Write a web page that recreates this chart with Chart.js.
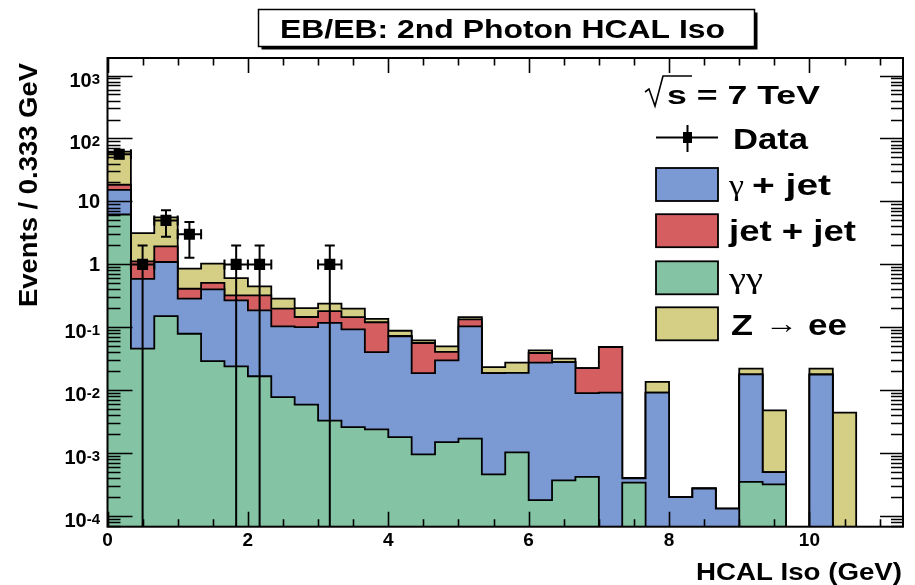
<!DOCTYPE html>
<html><head><meta charset="utf-8">
<script src="https://cdn.jsdelivr.net/npm/chart.js@4.4.1/dist/chart.umd.min.js"></script>
<style>html,body{margin:0;padding:0;background:#fff;overflow:hidden}canvas{display:block}</style>
</head><body>
<canvas id="c" width="915" height="585"></canvas>
<script>
// ---- data ----
const binCenters = [0.167, 0.5, 0.833, 1.167, 1.5, 1.833, 2.167, 2.5, 2.833, 3.167, 3.5, 3.833,
  4.167, 4.5, 4.833, 5.167, 5.5, 5.833, 6.167, 6.5, 6.833, 7.167, 7.5, 7.833,
  8.167, 8.5, 8.833, 9.167, 9.5, 9.833, 10.167, 10.5, 10.833, 11.167];
const binWidth = 1 / 3;
const gammaGamma = [6.2, 0.046, 0.151, 0.079, 0.029, 0.024, 0.0167, 0.0078, 0.0059, 0.0033, 0.0026, 0.0024,
  0.0018, 0.00096, 0.0015, 0.0017, 0.00046, 0.00103, 0.00018, 0.00037, 0.00042, 0, 0.00034, 0,
  0, 0, 0, 0.00035, 0.00032, 0, 0, 0, 0, 0];
const gammaJet = [9.1, 0.544, 0.939, 0.207, 0.371, 0.244, 0.169, 0.096, 0.095, 0.114, 0.090, 0.038,
  0.070, 0.0178, 0.0284, 0.102, 0.0183, 0.0178, 0.0273, 0.0277, 0.0086, 0.0092, 0.00006, 0.0092,
  0.0002, 0.000275, 0.000132, 0.0176, 0.00018, 0, 0.0178, 0, 0, 0];
const jetJet = [3.1, 0.53, 0.84, 0.124, 0.11, 0.054, 0.136, 0.094, 0.045, 0.063, 0.053, 0.080,
  0.0015, 0.0376, 0.0107, 0.030, 0, 0, 0.0116, 0, 0.0135, 0.0395, 0, 0,
  0, 0, 0, 0, 0, 0, 0, 0, 0, 0];
const zee = [43.6, 2.02, 3.67, 0.445, 0.52, 0.285, 0.126, 0.088, 0.056, 0.058, 0.052, 0.016,
  0.015, 0.0058, 0.0093, 0.012, 0.0046, 0.0087, 0.004, 0.0037, 0, 0, 0, 0.0044,
  0, 0, 0, 0.0042, 0.0043, 0, 0.0043, 0.0044, 0, 0];
const dataX = [0.167, 0.5, 0.833, 1.167, 1.833, 2.167, 3.167];
const dataY = [56, 1, 5, 3, 1, 1, 1];
const dataErr = [7.5, 1, 2.24, 1.73, 1, 1, 1];
const seriesNames = ['γ + jet', 'jet + jet', 'γγ', 'Z → ee'];
const seriesColors = ['#7B9AD4', '#D55E60', '#84C3A3', '#D4CF85'];
const yTickValues = [1e3, 1e2, 10, 1, 0.1, 0.01, 0.001, 0.0001];
const yTickBase = ['10', '10', '10', '1', '10', '10', '10', '10'];
const yTickExp = ['3', '2', '', '', '-1', '-2', '-3', '-4'];
const xTickValues = [0, 2, 4, 6, 8, 10];
const titleText = 'EB/EB: 2nd Photon HCAL Iso';
const energyText = 's = 7 TeV';
const xTitle = 'HCAL Iso (GeV)';
const yTitle = 'Events / 0.333 GeV';

// ---- build cumulative stacks (THStack style) ----
const FLOOR = 1e-8;
function cumulative(layers) {
  return binCenters.map((_, k) => layers.reduce((s, arr) => s + arr[k], 0));
}
function stepPoints(cum) {
  const pts = binCenters.map((c, k) => ({x: c - binWidth / 2, y: cum[k] > 0 ? cum[k] : FLOOR}));
  const last = cum[cum.length - 1];
  pts.push({x: binCenters[binCenters.length - 1] + binWidth / 2, y: last > 0 ? last : FLOOR});
  return pts;
}
const cumGG = cumulative([gammaGamma]);
const cumGJ = cumulative([gammaGamma, gammaJet]);
const cumJJ = cumulative([gammaGamma, gammaJet, jetJet]);
const cumZ = cumulative([gammaGamma, gammaJet, jetJet, zee]);

function histDS(label, cum, color) {
  return {label, data: stepPoints(cum), stepped: true, fill: 'start', backgroundColor: color,
    borderColor: '#000', borderWidth: 1.8, pointRadius: 0, tension: 0};
}

const SANS = "'Liberation Sans', Arial, Helvetica, sans-serif";
const SERIF = "'Liberation Serif', 'Times New Roman', serif";

function drawPieces(ctx, pieces, x, baseline, targetWidth) {
  let w = 0;
  pieces.forEach(p => { ctx.font = p.f; p.w = ctx.measureText(p.t).width; w += p.w; });
  const sx = targetWidth ? targetWidth / w : 1;
  ctx.save();
  ctx.translate(x, baseline);
  ctx.scale(sx, 1);
  ctx.textAlign = 'left'; ctx.textBaseline = 'alphabetic'; ctx.fillStyle = '#000';
  let cx = 0;
  pieces.forEach(p => { ctx.font = p.f; ctx.fillText(p.t, cx, 0); cx += p.w; });
  ctx.restore();
}
// draw a piece of text fitted into [x0, x1]
function fitText(ctx, text, font, x0, x1, baseline) {
  drawPieces(ctx, [{t: text, f: font}], x0, baseline, x1 - x0);
}

const rootPlugin = {
  id: 'rootStyle',
  afterDatasetsDraw(chart) {
    const {ctx, chartArea: a, scales: {x, y}} = chart;
    // error bars
    ctx.save();
    ctx.beginPath(); ctx.rect(a.left, a.top, a.right - a.left, a.bottom - a.top); ctx.clip();
    ctx.strokeStyle = '#000'; ctx.lineWidth = 2;
    ctx.beginPath();
    dataX.forEach((xv, i) => {
      const px = x.getPixelForValue(xv), py = y.getPixelForValue(dataY[i]);
      const hi = y.getPixelForValue(dataY[i] + dataErr[i]);
      const loV = dataY[i] - dataErr[i];
      const lo = loV > 0 ? y.getPixelForValue(loV) : a.bottom + 2;
      const xl = x.getPixelForValue(xv - binWidth / 2), xr = x.getPixelForValue(xv + binWidth / 2);
      ctx.moveTo(px, hi); ctx.lineTo(px, lo);
      ctx.moveTo(px - 5, hi); ctx.lineTo(px + 5, hi);
      if (loV > 0) { ctx.moveTo(px - 5, lo); ctx.lineTo(px + 5, lo); }
      ctx.moveTo(xl, py); ctx.lineTo(xr, py);
      ctx.moveTo(xl, py - 5); ctx.lineTo(xl, py + 5);
      ctx.moveTo(xr, py - 5); ctx.lineTo(xr, py + 5);
    });
    ctx.stroke();
    ctx.restore();

    // ticks (ROOT style, inside the frame)
    ctx.save();
    ctx.strokeStyle = '#000'; ctx.lineWidth = 1.6;
    ctx.beginPath();
    for (let e = -5; e <= 4; e++) {
      for (let m = 1; m <= 9; m++) {
        const v = m * Math.pow(10, e);
        if (v < y.min || v > y.max) continue;
        const py = Math.round(y.getPixelForValue(v)) + 0.5;
        const major = m === 1;
        ctx.moveTo(a.left, py); ctx.lineTo(a.left + (major ? 25 : 13), py);
        ctx.moveTo(a.right, py); ctx.lineTo(a.right - (major ? 23 : 12), py);
      }
    }
    for (let v = 0; v <= x.max + 1e-9; v += 0.5) {
      const px = Math.round(x.getPixelForValue(v)) + 0.5;
      const major = Math.abs(v % 2) < 1e-9;
      const len = major ? 15 : 7.5;
      ctx.moveTo(px, a.bottom); ctx.lineTo(px, a.bottom - len);
      ctx.moveTo(px, a.top); ctx.lineTo(px, a.top + len);
    }
    ctx.stroke();
    // frame
    ctx.lineWidth = 2;
    ctx.strokeRect(a.left, a.top, a.right - a.left, a.bottom - a.top);
    ctx.restore();

    // y tick labels with real superscripts
    ctx.save();
    ctx.fillStyle = '#000'; ctx.textBaseline = 'alphabetic'; ctx.textAlign = 'left';
    yTickValues.forEach((v, i) => {
      const py = y.getPixelForValue(v);
      const baseFont = `bold 20px ${SANS}`, supFont = `bold 15px ${SANS}`;
      ctx.font = baseFont; const wb = ctx.measureText(yTickBase[i]).width;
      ctx.font = supFont; const ws = yTickExp[i] ? ctx.measureText(yTickExp[i]).width : 0;
      const right = 100;
      const x0 = right - wb - ws;
      const hasExp = !!yTickExp[i];
      const base = py + (hasExp ? 11 : 7);
      ctx.font = baseFont; ctx.fillText(yTickBase[i], x0, base);
      if (hasExp) { ctx.font = supFont; ctx.fillText(yTickExp[i], x0 + wb, base - 3); }
    });
    ctx.restore();

    // legend
    ctx.save();
    ctx.strokeStyle = '#000'; ctx.fillStyle = '#000';
    // sqrt(s) = 7 TeV
    ctx.lineWidth = 1.6;
    ctx.beginPath();
    ctx.moveTo(645, 92); ctx.lineTo(649, 89); ctx.lineTo(655, 106); ctx.lineTo(663, 76); ctx.lineTo(692, 76);
    ctx.stroke();
    fitText(ctx, energyText, `bold 25px ${SANS}`, 667, 820, 103.5);
    // Data entry
    ctx.lineWidth = 2;
    ctx.beginPath();
    ctx.moveTo(656, 137.5); ctx.lineTo(718, 137.5);
    ctx.moveTo(687.5, 125); ctx.lineTo(687.5, 152);
    ctx.stroke();
    ctx.fillRect(683, 132, 9, 11);
    fitText(ctx, 'Data', `bold 29px ${SANS}`, 733, 808, 148.5);
    const rowsY = [184.5, 230.7, 277.8, 323.8];
    rowsY.forEach((cy, i) => {
      ctx.fillStyle = seriesColors[i];
      ctx.fillRect(656, cy - 16.5, 62, 33);
      ctx.lineWidth = 1.8; ctx.strokeStyle = '#000';
      ctx.strokeRect(656, cy - 16.5, 62, 33);
    });
    const bl = cy => cy + 10.5;
    const G = `29px ${SERIF}`, B = `bold 29px ${SANS}`;
    // γ + jet
    fitText(ctx, 'γ', G, 729, 744, bl(rowsY[0]));
    fitText(ctx, '+ jet', B, 752, 831, bl(rowsY[0]));
    // jet + jet
    fitText(ctx, 'jet + jet', B, 729, 856, bl(rowsY[1]));
    // γγ
    fitText(ctx, 'γγ', G, 729, 763, bl(rowsY[2]));
    // Z → ee
    fitText(ctx, 'Z', B, 731, 753, bl(rowsY[3]) + 1);
    fitText(ctx, '→', G, 765, 798, bl(rowsY[3]) - 1);
    fitText(ctx, 'ee', B, 808, 847, bl(rowsY[3]) + 1);
    ctx.restore();
  },
  afterDraw(chart) {
    const ctx = chart.ctx;
    ctx.save();
    // title box with shadow
    ctx.fillStyle = '#000';
    ctx.fillRect(261.5, 12.5, 496, 37);
    ctx.fillStyle = '#fff';
    ctx.fillRect(258.5, 9.5, 496, 37);
    ctx.strokeStyle = '#000'; ctx.lineWidth = 1.5;
    ctx.strokeRect(258.5, 9.5, 496, 37);
    fitText(ctx, titleText, `bold 25px ${SANS}`, 280, 725, 37.5);
    // x title
    fitText(ctx, xTitle, `bold 24px ${SANS}`, 696, 902, 580);
    // y title rotated
    ctx.save();
    ctx.translate(37, 307);
    ctx.rotate(-Math.PI / 2);
    fitText(ctx, yTitle, `bold 25px ${SANS}`, 0, 244, 0);
    ctx.restore();
    ctx.restore();
  }
};

new Chart(document.getElementById('c'), {
  type: 'line',
  data: {
    datasets: [
      {label: 'Data', data: dataX.map((xv, i) => ({x: xv, y: dataY[i]})), showLine: false,
        pointStyle: 'rect', pointRadius: 7.8, pointBackgroundColor: '#000', pointBorderWidth: 0,
        borderColor: '#000', backgroundColor: '#000'},
      histDS(seriesNames[2], cumGG, seriesColors[2]),
      histDS(seriesNames[0], cumGJ, seriesColors[0]),
      histDS(seriesNames[1], cumJJ, seriesColors[1]),
      histDS(seriesNames[3], cumZ, seriesColors[3])
    ]
  },
  options: {
    animation: false, responsive: false, maintainAspectRatio: false,
    layout: {padding: {left: 0, right: 12, top: 58, bottom: 0}},
    plugins: {legend: {display: false}, tooltip: {enabled: false}, title: {display: false}},
    scales: {
      x: {
        type: 'linear', min: 0, max: 34 / 3,
        grid: {display: false, drawTicks: false}, border: {display: false},
        afterBuildTicks: s => { s.ticks = xTickValues.map(v => ({value: v})); },
        ticks: {color: '#000', font: {family: SANS, size: 19, weight: 'bold'}, padding: 3,
          maxRotation: 0, autoSkip: false},
        afterFit: s => { s.height = 58.3; }
      },
      y: {
        type: 'logarithmic', min: 6.8e-5, max: 1900,
        grid: {display: false, drawTicks: false}, border: {display: false},
        afterBuildTicks: s => { s.ticks = yTickValues.map(v => ({value: v})); },
        ticks: {display: false},
        afterFit: s => { s.width = 107.5; }
      }
    }
  },
  plugins: [rootPlugin]
});
</script>
</body></html>
